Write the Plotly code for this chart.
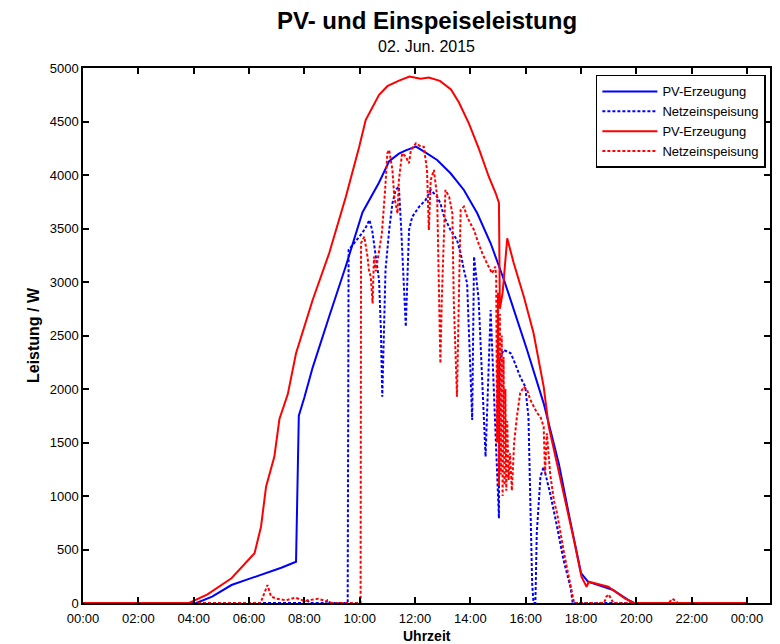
import plotly.graph_objects as go

# ---------------- data ----------------
pv_blue_t = ["00:00", "04:06", "04:40", "05:22", "06:00", "06:37", "07:10", "07:42", "07:48", "08:00",
             "08:18", "08:54", "09:30", "10:06", "10:42", "11:04", "11:25", "11:40", "12:02", "12:19",
             "12:48", "13:17", "13:46", "14:15", "14:44", "15:13", "15:30", "16:03", "16:39", "17:12",
             "17:35", "18:00", "18:15", "18:50", "19:10", "19:42", "19:55", "24:00"]
pv_blue_w = [0, 0, 60, 168, 225, 277, 330, 386, 1750, 1920,
             2200, 2680, 3150, 3650, 3930, 4130, 4200, 4230, 4265, 4220,
             4140, 4016, 3860, 3642, 3362, 3019, 2800, 2365, 1866, 1300,
             800, 280, 200, 150, 120, 30, 0, 0]

net_blue_t = ["00:00", "07:55", "08:05", "08:12", "08:45", "08:50", "08:56", "09:34", "09:36", "09:42",
              "09:54", "10:05", "10:14", "10:21", "10:27", "10:42", "10:46", "10:49", "10:56", "11:04",
              "11:11", "11:18", "11:25", "11:30", "11:40", "11:47", "11:54", "12:09", "12:23", "12:34",
              "12:48", "12:55", "13:03", "13:17", "13:31", "13:39", "13:46", "13:53", "14:04", "14:08",
              "14:18", "14:33", "14:44", "15:02", "15:03", "15:12", "15:27", "15:34", "15:48", "15:59",
              "16:06", "16:10", "16:14", "16:17", "16:21", "16:24", "16:32", "16:39", "16:53", "17:08",
              "17:22", "17:37", "17:42", "24:00"]
net_blue_w = [0, 0, 30, 0, 0, 25, 0, 0, 3300, 3330,
              3393, 3455, 3517, 3580, 3486, 3019, 2551, 1928, 3112, 3486,
              3736, 3860, 3891, 3500, 2582, 3486, 3610, 3704, 3766, 3860,
              3797, 3736, 3610, 3486, 3393, 3268, 3112, 2988, 1710, 3237,
              2832, 1367, 2738, 791, 2271, 2365, 2336, 2271, 2115, 2022,
              1741, 963, 184, 0, 0, 651, 1180, 1274, 1025, 713,
              402, 152, 0, 0]

pv_red_t = ["00:00", "03:50", "04:30", "05:22", "06:12", "06:26", "06:37", "06:55", "07:06", "07:24",
            "07:42", "08:18", "08:54", "09:30", "09:59", "10:13", "10:42", "11:00", "11:24", "11:48",
            "12:12", "12:30", "12:54", "13:18", "13:35", "13:57", "14:19", "14:40", "14:55", "15:02",
            "15:04", "15:10", "15:20", "15:34", "15:56", "16:17", "16:39", "16:50", "17:08", "17:29",
            "17:44", "18:01", "18:12", "18:17", "18:59", "19:35", "19:54", "24:00"]
pv_red_w = [0, 0, 80, 231, 465, 713, 1087, 1368, 1720, 1950,
            2334, 2832, 3271, 3797, 4265, 4514, 4750, 4830, 4880, 4920,
            4900, 4910, 4880, 4800, 4680, 4480, 4240, 3984, 3829, 3740,
            2750, 2900, 3408, 3178, 2863, 2523, 2022, 1648, 1300, 900,
            600, 246, 152, 199, 152, 44, 0, 0]

net_red_t = ["00:00", "06:25", "06:40", "06:48", "07:00", "07:20", "07:40", "08:00", "08:30", "08:50",
             "09:00", "10:02", "10:03", "10:10", "10:17", "10:20", "10:24", "10:28", "10:31", "10:35",
             "10:42", "10:48", "10:55", "11:00", "11:04", "11:11", "11:15", "11:22", "11:25", "11:32",
             "11:40", "11:47", "11:51", "12:02", "12:13", "12:19", "12:26", "12:30", "12:34", "12:41",
             "12:48", "12:52", "12:55", "12:58", "13:06", "13:14", "13:21", "13:24", "13:31", "13:35",
             "13:39", "13:46", "13:53", "14:00", "14:08", "14:15", "14:26", "14:36", "14:47", "14:54",
             "14:56", "14:58", "15:00", "15:02", "15:04", "15:06", "15:08", "15:10", "15:12", "15:14",
             "15:16", "15:18", "15:20", "15:23", "15:26", "15:30", "15:35", "15:41", "15:48", "15:56",
             "16:03", "16:10", "16:17", "16:25", "16:32", "16:39", "16:42", "16:46", "16:53", "17:01",
             "17:08", "17:15", "17:22", "17:29", "17:37", "17:40", "17:45", "18:50", "18:55", "19:00",
             "19:05", "19:10", "21:10", "21:18", "21:25", "21:30", "24:00"]
net_red_w = [0, 0, 168, 60, 40, 25, 50, 20, 40, 10,
             0, 0, 3364, 3424, 3237, 3112, 3050, 2800, 3237, 3100,
             3300, 3450, 3850, 4203, 4234, 4047, 3797, 3642, 3950, 4203,
             4171, 4110, 4234, 4296, 4265, 4265, 4047, 3486, 3953, 4047,
             3797, 2863, 2240, 2830, 3860, 3797, 3642, 2830, 1928, 2830,
             3673, 3704, 3610, 3548, 3486, 3393, 3268, 3175, 3081, 3143,
             3050, 1500, 2900, 1100, 2700, 1200, 2500, 1000, 2300, 1100,
             2000, 1050, 1700, 1150, 1400, 1050, 1500, 1741, 1960, 2022,
             1991, 1900, 1835, 1773, 1741, 1648, 1212, 1586, 1212, 963,
             838, 651, 495, 339, 152, 90, 0, 0, 60, 80,
             40, 0, 0, 40, 20, 0, 0]

x_tick_hours = [0, 2, 4, 6, 8, 10, 12, 14, 16, 18, 20, 22, 24]
x_tick_labels = ["00:00", "02:00", "04:00", "06:00", "08:00", "10:00", "12:00",
                 "14:00", "16:00", "18:00", "20:00", "22:00", "00:00"]
y_ticks = [0, 500, 1000, 1500, 2000, 2500, 3000, 3500, 4000, 4500, 5000]

legend_names = ["PV-Erzeugung", "Netzeinspeisung", "PV-Erzeugung", "Netzeinspeisung"]


def to_hours(ts):
    out = []
    for s in ts:
        h, m = s.split(":")
        out.append(int(h) + int(m) / 60.0)
    return out


BLUE = "#0000FF"
RED = "#FF0000"
DOT = "3px,2px"

fig = go.Figure()
fig.add_trace(go.Scatter(x=to_hours(pv_blue_t), y=pv_blue_w, mode="lines", name=legend_names[0],
                         line=dict(color=BLUE, width=2)))
fig.add_trace(go.Scatter(x=to_hours(net_blue_t), y=net_blue_w, mode="lines", name=legend_names[1],
                         line=dict(color=BLUE, width=2, dash=DOT)))
fig.add_trace(go.Scatter(x=to_hours(pv_red_t), y=pv_red_w, mode="lines", name=legend_names[2],
                         line=dict(color=RED, width=2)))
fig.add_trace(go.Scatter(x=to_hours(net_red_t), y=net_red_w, mode="lines", name=legend_names[3],
                         line=dict(color=RED, width=2, dash=DOT)))

FONT = "Liberation Sans, Arial, Helvetica, sans-serif"

fig.update_layout(
    width=780, height=644,
    margin=dict(l=83, r=8, t=68, b=41),
    paper_bgcolor="white", plot_bgcolor="white",
    font=dict(family=FONT, size=13, color="black"),
    showlegend=True,
    legend=dict(x=0.994, y=0.987, xanchor="right", yanchor="top",
                bgcolor="white", bordercolor="black", borderwidth=1.5,
                font=dict(family=FONT, size=13, color="black"),
                itemwidth=55, tracegroupgap=0),
    xaxis=dict(range=[0, 24.83], tickmode="array", tickvals=x_tick_hours, ticktext=x_tick_labels,
               ticks="inside", ticklen=6, tickwidth=1.5, tickcolor="black",
               showline=True, linecolor="black", linewidth=1.5, mirror="allticks",
               showgrid=False, zeroline=False, tickfont=dict(size=13), ticklabelstandoff=3),
    yaxis=dict(range=[0, 5000], tickmode="array", tickvals=y_ticks,
               ticks="inside", ticklen=6, tickwidth=1.5, tickcolor="black",
               showline=True, linecolor="black", linewidth=1.5, mirror="allticks",
               showgrid=False, zeroline=False, tickfont=dict(size=13)),
    annotations=[
        dict(text="<b>PV- und Einspeiseleistung</b>", xref="paper", yref="paper", x=0.5, y=1.088,
             xanchor="center", yanchor="middle", showarrow=False, font=dict(size=24)),
        dict(text="02. Jun. 2015", xref="paper", yref="paper", x=0.5, y=1.041,
             xanchor="center", yanchor="middle", showarrow=False, font=dict(size=16)),
        dict(text="<b>Leistung / W</b>", xref="paper", yref="paper", x=-0.072, y=0.5,
             xanchor="center", yanchor="middle", showarrow=False, textangle=-90, font=dict(size=16)),
        dict(text="<b>Uhrzeit</b>", xref="paper", yref="paper", x=0.5, y=-0.0625,
             xanchor="center", yanchor="middle", showarrow=False, font=dict(size=14)),
    ],
)

fig.write_html("out.html")
